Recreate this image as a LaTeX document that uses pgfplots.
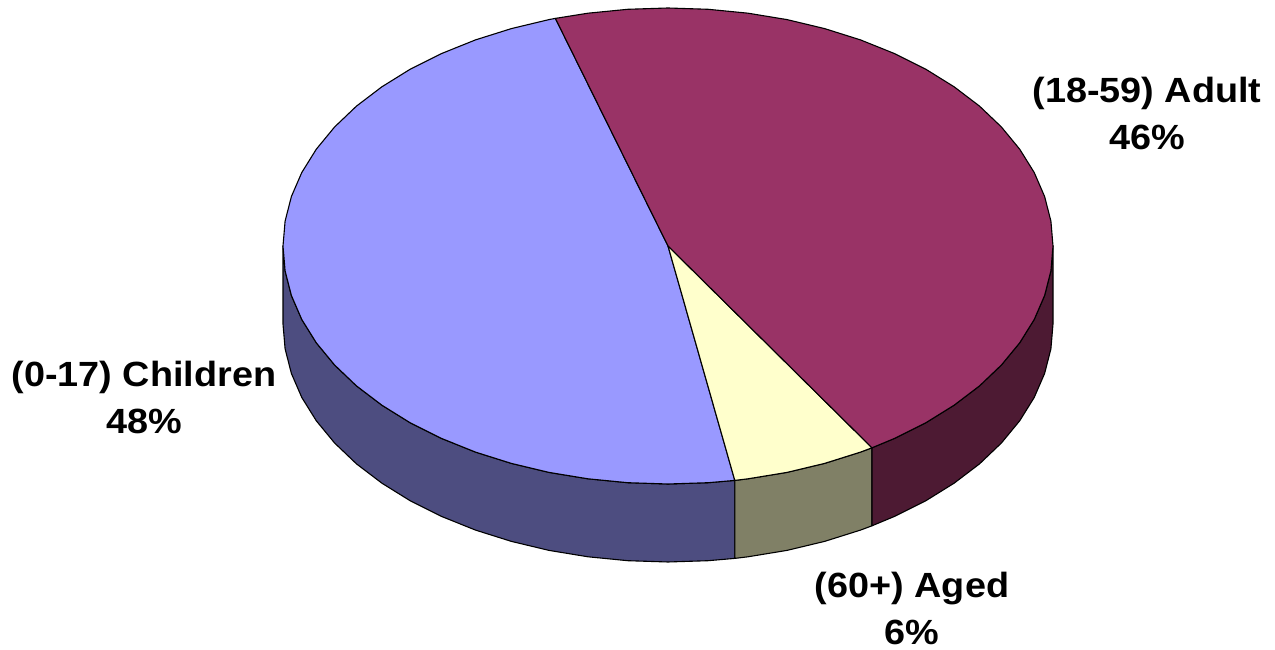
\documentclass[border=0pt]{standalone}
\usepackage{pgfplots}
\pgfplotsset{compat=1.18}
\usepackage{fontspec}
\setmainfont{Liberation Sans}
\definecolor{cblue}{HTML}{9999FF}
\definecolor{cmar}{HTML}{993366}
\definecolor{cyel}{HTML}{FFFFCC}
\definecolor{dblue}{HTML}{4D4D80}
\definecolor{dmar}{HTML}{4D1A33}
\definecolor{dyel}{HTML}{808066}
\newcommand{\lab}[1]{\scalebox{1.08}[1]{#1}}
\begin{document}
\begin{tikzpicture}
\begin{axis}[
  scale only axis, width=1275pt, height=650pt,
  xmin=0, xmax=1275, ymin=0, ymax=650,
  hide axis, clip=false,
  every axis plot/.append style={draw=black, line width=1.1pt, line join=round, mark=none},
  nodes={font=\fontsize{35}{42}\selectfont\bfseries, anchor=base, inner sep=0pt}
]
% side: children
\addplot[fill=dblue] coordinates {(283,404)(285.1,379.1)(291.4,354.5)(301.8,330.5)(316.3,307.2)(334.6,285)(356.5,264.1)(381.9,244.8)(410.4,227.1)(441.7,211.5)(475.5,197.9)(511.4,186.6)(549,177.6)(588,171.2)(627.8,167.3)(668,166)(708.2,167.3)(734.8,169.6)
 (734.8,91.6)(708.2,89.3)(668,88)(627.8,89.3)(588,93.2)(549,99.6)(511.4,108.6)(475.5,119.9)(441.7,133.5)(410.4,149.1)(381.9,166.8)(356.5,186.1)(334.6,207)(316.3,229.2)(301.8,252.5)(291.4,276.5)(285.1,301.1)(283,326)} -- cycle;
% side: aged
\addplot[fill=dyel] coordinates {(734.8,169.6)(748,171.2)(787,177.6)(824.6,186.6)(860.5,197.9)(872,202.2)
 (872,124.2)(860.5,119.9)(824.6,108.6)(787,99.6)(748,93.2)(734.8,91.6)} -- cycle;
% side: adult
\addplot[fill=dmar] coordinates {(872,202.2)(894.3,211.5)(925.6,227.1)(954.1,244.8)(979.5,264.1)(1001.4,285)(1019.7,307.2)(1034.2,330.5)(1044.6,354.5)(1050.9,379.1)(1053,404)
 (1053,326)(1050.9,301.1)(1044.6,276.5)(1034.2,252.5)(1019.7,229.2)(1001.4,207)(979.5,186.1)(954.1,166.8)(925.6,149.1)(894.3,133.5)(872,124.2)} -- cycle;
% top: children
\addplot[fill=cblue] coordinates {(668,404)(555.4,631.6)(549,630.4)(511.4,621.4)(475.5,610.1)(441.7,596.5)(410.4,580.9)(381.9,563.2)(356.5,543.9)(334.6,523)(316.3,500.8)(301.8,477.5)(291.4,453.5)(285.1,428.9)(283,404)(285.1,379.1)(291.4,354.5)(301.8,330.5)(316.3,307.2)(334.6,285)(356.5,264.1)(381.9,244.8)(410.4,227.1)(441.7,211.5)(475.5,197.9)(511.4,186.6)(549,177.6)(588,171.2)(627.8,167.3)(668,166)(708.2,167.3)(734.8,169.6)} -- cycle;
% top: aged
\addplot[fill=cyel] coordinates {(668,404)(734.8,169.6)(748,171.2)(787,177.6)(824.6,186.6)(860.5,197.9)(872,202.2)} -- cycle;
% top: adult
\addplot[fill=cmar] coordinates {(668,404)(872,202.2)(894.3,211.5)(925.6,227.1)(954.1,244.8)(979.5,264.1)(1001.4,285)(1019.7,307.2)(1034.2,330.5)(1044.6,354.5)(1050.9,379.1)(1053,404)(1050.9,428.9)(1044.6,453.5)(1034.2,477.5)(1019.7,500.8)(1001.4,523)(979.5,543.9)(954.1,563.2)(925.6,580.9)(894.3,596.5)(860.5,610.1)(824.6,621.4)(787,630.4)(748,636.8)(708.2,640.7)(668,642)(627.8,640.7)(588,636.8)(555.4,631.6)} -- cycle;
\node at (axis cs:1147,547) {\lab{(18-59) Adult}};
\node at (axis cs:1147,500) {\lab{46\%}};
\node at (axis cs:144,263) {\lab{(0-17) Children}};
\node at (axis cs:144,216) {\lab{48\%}};
\node at (axis cs:912,52) {\lab{(60+) Aged}};
\node at (axis cs:912,5) {\lab{6\%}};
\end{axis}
\path (0,0) rectangle (1275pt,650pt);
\end{tikzpicture}
\end{document}
